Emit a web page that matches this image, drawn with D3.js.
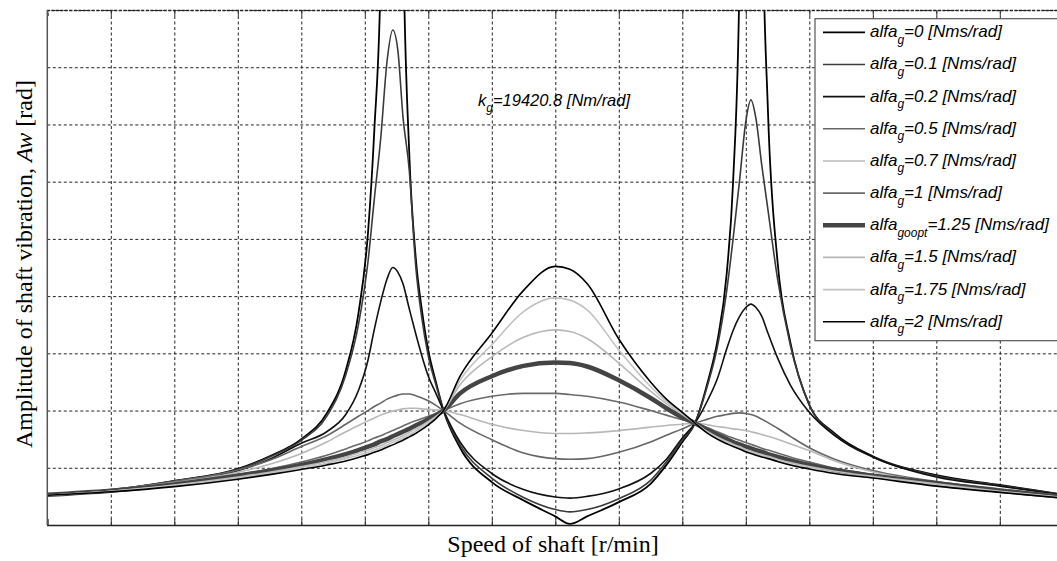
<!DOCTYPE html>
<html>
<head>
<meta charset="utf-8">
<script src="https://cdn.jsdelivr.net/npm/d3@7"></script>
<style>
  body { margin: 0; background: #fff; }
  svg { display: block; }
</style>
</head>
<body>
<div id="chart"></div>
<script>
// shaft speed in grid divisions (no tick labels on the original)
const speed = [0, 1, 2, 3, 3.5, 4, 4.4, 4.7, 4.9, 5.05, 5.15, 5.25, 5.35, 5.44, 5.52, 5.6,
  5.7, 5.8, 5.9, 6.0, 6.12, 6.24, 6.5, 7, 7.5, 8, 8.23, 8.5, 9, 9.5, 9.75,
  10, 10.2, 10.4, 10.55, 10.7, 10.8, 10.9, 11.0, 11.08, 11.16, 11.25, 11.35, 11.5, 11.7, 12,
  12.4, 13, 14, 15, 16];

// amplitude for each damping value alfa_g
const alfa0 = [0.52, 0.61, 0.77, 0.98, 1.2, 1.5, 1.95, 2.7, 3.7, 5.1, 6.9, 9.6, 20, 60, 21, 10.6,
  6.5, 4.7, 3.75, 3.05, 2.5, 2.0, 1.35, 0.75, 0.43, 0.15, 0.02, 0.15, 0.4, 0.72, 1.05,
  1.45, 1.78, 2.5, 3.2, 4.4, 6.0, 9.5, 21, 60, 24, 11.5, 7.2, 4.6, 3.2, 2.1,
  1.6, 1.2, 0.87, 0.7, 0.53];
const alfa01 = [0.52, 0.61, 0.77, 0.97, 1.19, 1.48, 1.9, 2.62, 3.5, 4.6, 5.7, 6.75, 8.1, 8.65, 8.3, 7.15,
  6.2, 4.55, 3.6, 2.95, 2.45, 2.0, 1.4, 0.82, 0.48, 0.27, 0.23, 0.27, 0.46, 0.78, 1.1,
  1.48, 1.78, 2.45, 3.1, 4.1, 5.0, 6.0, 7.05, 7.43, 7.1, 6.3, 5.5, 4.3, 3.15, 2.1,
  1.58, 1.19, 0.86, 0.69, 0.53];
const alfa02 = [0.52, 0.6, 0.75, 0.95, 1.15, 1.43, 1.63, 1.93, 2.35, 2.88, 3.42, 3.9, 4.3, 4.5, 4.42, 4.22,
  3.78, 3.35, 2.95, 2.6, 2.3, 2.0, 1.45, 0.9, 0.62, 0.49, 0.47, 0.5, 0.63, 0.9, 1.15,
  1.52, 1.78, 2.18, 2.55, 3.08, 3.4, 3.64, 3.8, 3.86, 3.8, 3.65, 3.35, 2.92, 2.45, 1.97,
  1.56, 1.19, 0.84, 0.68, 0.52];
const alfa05 = [0.53, 0.62, 0.76, 0.96, 1.13, 1.37, 1.56, 1.76, 1.9, 2.0, 2.07, 2.13, 2.2, 2.24, 2.27, 2.29,
  2.29, 2.26, 2.22, 2.17, 2.09, 2.0, 1.78, 1.49, 1.26, 1.16, 1.15, 1.16, 1.27, 1.45, 1.57,
  1.68, 1.78, 1.85, 1.9, 1.93, 1.95, 1.96, 1.95, 1.93, 1.9, 1.85, 1.79, 1.69, 1.55, 1.35,
  1.15, 0.95, 0.76, 0.63, 0.51];
const alfa07 = [0.53, 0.61, 0.74, 0.92, 1.06, 1.25, 1.45, 1.63, 1.74, 1.82, 1.87, 1.92, 1.96, 1.99, 2.01, 2.03,
  2.04, 2.04, 2.03, 2.02, 2.01, 2.0, 1.93, 1.76, 1.65, 1.6, 1.6, 1.61, 1.65, 1.71, 1.74,
  1.76, 1.78, 1.75, 1.72, 1.7, 1.68, 1.67, 1.65, 1.63, 1.61, 1.58, 1.55, 1.5, 1.42, 1.3,
  1.12, 0.93, 0.74, 0.61, 0.5];
const alfa1 = [0.53, 0.61, 0.72, 0.88, 0.98, 1.1, 1.22, 1.33, 1.41, 1.47, 1.52, 1.56, 1.61, 1.65, 1.69, 1.73,
  1.78, 1.82, 1.86, 1.9, 1.95, 2.0, 2.12, 2.25, 2.3, 2.3, 2.28, 2.25, 2.15, 2.0, 1.92,
  1.84, 1.78, 1.7, 1.63, 1.56, 1.52, 1.48, 1.44, 1.41, 1.38, 1.34, 1.31, 1.26, 1.19, 1.1,
  0.99, 0.88, 0.75, 0.62, 0.5];
const alfa125 = [0.53, 0.6, 0.71, 0.86, 0.95, 1.05, 1.15, 1.24, 1.31, 1.37, 1.41, 1.46, 1.5, 1.55, 1.59, 1.63,
  1.68, 1.74, 1.79, 1.85, 1.92, 2.0, 2.3, 2.6, 2.78, 2.84, 2.83, 2.77, 2.53, 2.22, 2.04,
  1.88, 1.78, 1.66, 1.58, 1.5, 1.45, 1.41, 1.37, 1.34, 1.31, 1.28, 1.24, 1.19, 1.13, 1.05,
  0.96, 0.86, 0.73, 0.6, 0.49];
const alfa15 = [0.52, 0.59, 0.7, 0.84, 0.92, 1.02, 1.11, 1.19, 1.26, 1.31, 1.35, 1.39, 1.44, 1.48, 1.52, 1.56,
  1.62, 1.68, 1.74, 1.81, 1.9, 2.0, 2.45, 2.94, 3.28, 3.41, 3.38, 3.26, 2.83, 2.34, 2.12,
  1.93, 1.78, 1.63, 1.54, 1.46, 1.41, 1.37, 1.32, 1.29, 1.26, 1.23, 1.2, 1.15, 1.09, 1.02,
  0.94, 0.85, 0.72, 0.59, 0.48];
const alfa175 = [0.52, 0.59, 0.69, 0.82, 0.9, 1.0, 1.08, 1.16, 1.22, 1.27, 1.31, 1.35, 1.4, 1.44, 1.48, 1.52,
  1.58, 1.64, 1.71, 1.78, 1.88, 2.0, 2.53, 3.15, 3.73, 3.97, 3.93, 3.76, 3.06, 2.42, 2.16,
  1.95, 1.78, 1.62, 1.52, 1.44, 1.39, 1.35, 1.3, 1.27, 1.24, 1.21, 1.18, 1.12, 1.06, 1.0,
  0.91, 0.83, 0.7, 0.58, 0.48];
const alfa2 = [0.52, 0.58, 0.67, 0.8, 0.88, 0.97, 1.05, 1.12, 1.18, 1.23, 1.27, 1.31, 1.36, 1.4, 1.44, 1.48,
  1.54, 1.6, 1.67, 1.75, 1.86, 2.0, 2.6, 3.35, 4.1, 4.52, 4.47, 4.22, 3.25, 2.5, 2.2,
  1.97, 1.78, 1.6, 1.5, 1.42, 1.37, 1.33, 1.28, 1.25, 1.22, 1.19, 1.16, 1.11, 1.05, 0.98,
  0.9, 0.82, 0.68, 0.57, 0.47];

const alfaValues = ["0", "0.1", "0.2", "0.5", "0.7", "1", "1.25", "1.5", "1.75", "2"];
const alfaSubs = ["g", "g", "g", "g", "g", "g", "goopt", "g", "g", "g"];

// styles, same order as alfaValues
const lineColors = ["#000", "#3a3a3a", "#111", "#666", "#b8b8b8", "#6a6a6a", "#444", "#b8b8b8", "#c2c2c2", "#000"];
const lineWidths = [1.8, 1.6, 1.6, 1.6, 1.6, 1.6, 4.5, 1.6, 1.6, 1.6];

const series = [alfa0, alfa01, alfa02, alfa05, alfa07, alfa1, alfa125, alfa15, alfa175, alfa2]
  .map((vals, i) => ({ vals: vals, alfa: alfaValues[i], sub: alfaSubs[i], color: lineColors[i], width: lineWidths[i] }));

const width = 1057, height = 561;
const plotLeft = 47.3, plotTop = 10, plotBottom = 525, plotRight = 1063.3;

const svg = d3.select("#chart").append("svg")
  .attr("width", width)
  .attr("height", height);

const x = d3.scaleLinear().domain([0, 16]).range([plotLeft, plotRight]);
const y = d3.scaleLinear().domain([0, 9]).range([plotBottom, plotTop]);

// dashed grid
svg.append("g")
  .attr("transform", `translate(0,${plotBottom})`)
  .call(d3.axisBottom(x).tickValues(d3.range(1, 16)).tickSize(-(plotBottom - plotTop)).tickFormat(""))
  .call(g => g.select(".domain").remove())
  .selectAll("line")
  .attr("stroke", "#222")
  .attr("stroke-dasharray", "3,2.5");

svg.append("g")
  .attr("transform", `translate(${plotLeft},0)`)
  .call(d3.axisLeft(y).tickValues(d3.range(1, 10)).tickSize(-(plotRight - plotLeft)).tickFormat(""))
  .call(g => g.select(".domain").remove())
  .selectAll("line")
  .attr("stroke", "#222")
  .attr("stroke-dasharray", "3,2.5");

// curves
svg.append("clipPath").attr("id", "plotclip")
  .append("rect")
  .attr("x", plotLeft).attr("y", plotTop)
  .attr("width", plotRight - plotLeft).attr("height", plotBottom - plotTop);

const line = d3.line()
  .x((d, i) => x(speed[i]))
  .y(d => y(d))
  .curve(d3.curveMonotoneX);

svg.append("g")
  .attr("clip-path", "url(#plotclip)")
  .selectAll("path")
  .data(series)
  .enter()
  .append("path")
  .attr("d", d => line(d.vals))
  .attr("fill", "none")
  .attr("stroke", d => d.color)
  .attr("stroke-width", d => d.width)
  .attr("stroke-linejoin", "round");

// inner ticks and box
svg.append("g")
  .attr("transform", `translate(0,${plotBottom})`)
  .call(d3.axisBottom(x).tickValues(d3.range(0, 17)).tickSize(-6).tickFormat(""))
  .call(g => g.select(".domain").attr("stroke", "#222").attr("stroke-width", 1.5))
  .selectAll("line").attr("stroke", "#333");

svg.append("g")
  .attr("transform", `translate(0,${plotTop})`)
  .call(d3.axisTop(x).tickValues(d3.range(0, 17)).tickSize(-6).tickFormat(""))
  .call(g => g.select(".domain").attr("stroke", "#222").attr("stroke-width", 1.5).attr("stroke-dasharray", "3,1.5"))
  .selectAll("line").attr("stroke", "#333");

svg.append("line")
  .attr("x1", plotLeft).attr("x2", plotLeft)
  .attr("y1", plotTop).attr("y2", plotBottom)
  .attr("stroke", "#555")
  .attr("stroke-width", 1.5);

// annotation
const ann = svg.append("text")
  .attr("x", 478).attr("y", 106)
  .attr("font-family", "Liberation Sans, Arial, sans-serif")
  .attr("font-style", "italic")
  .attr("font-size", 16.5);
ann.append("tspan").text("k");
ann.append("tspan").attr("dy", 6).attr("font-size", 12).text("g");
ann.append("tspan").attr("dy", -6).text("=19420.8 [Nm/rad]");

// legend
const legend = svg.append("g");
legend.append("rect")
  .attr("x", 815).attr("y", 18.7)
  .attr("width", 260).attr("height", 322)
  .attr("fill", "#fff")
  .attr("stroke", "#555")
  .attr("stroke-width", 1.2);

const rows = legend.selectAll("g.row")
  .data(series)
  .enter()
  .append("g")
  .attr("class", "row")
  .attr("transform", (d, i) => `translate(0,${32.3 + 32.16 * i})`);

rows.append("line")
  .attr("x1", 823).attr("x2", 865)
  .attr("stroke", d => d.color)
  .attr("stroke-width", d => d.width);

const lt = rows.append("text")
  .attr("x", 870).attr("y", 5)
  .attr("font-family", "Liberation Sans, Arial, sans-serif")
  .attr("font-style", "italic")
  .attr("font-size", 17);
lt.append("tspan").text("alfa");
lt.append("tspan").attr("dy", 6.5).attr("font-size", 12).text(d => d.sub);
lt.append("tspan").attr("dy", -6.5).text(d => "=" + d.alfa + " [Nms/rad]");

// axis titles
svg.append("text")
  .attr("x", 553).attr("y", 552)
  .attr("text-anchor", "middle")
  .attr("font-family", "Liberation Serif, Times New Roman, serif")
  .attr("font-size", 24)
  .text("Speed of shaft [r/min]");

const yl = svg.append("text")
  .attr("transform", "translate(32,264) rotate(-90)")
  .attr("text-anchor", "middle")
  .attr("font-family", "Liberation Serif, Times New Roman, serif")
  .attr("font-size", 24);
yl.append("tspan").text("Amplitude of shaft vibration, ");
yl.append("tspan").attr("font-style", "italic").text("Aw");
yl.append("tspan").text(" [rad]");
</script>
</body>
</html>
